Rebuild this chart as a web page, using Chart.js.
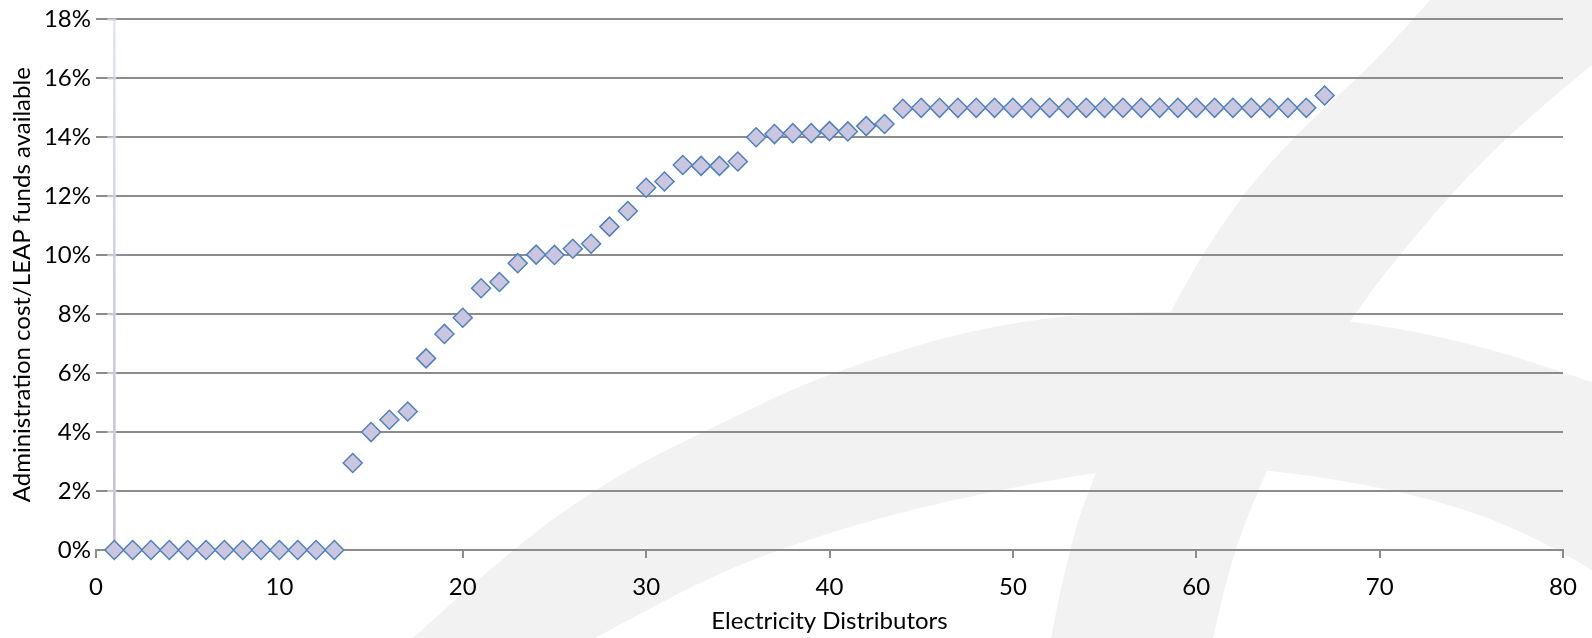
<!DOCTYPE html>
<html>
<head>
<meta charset="utf-8">
<script src="https://cdn.jsdelivr.net/npm/chart.js@4.4.1/dist/chart.umd.min.js"></script>
<style>
  html, body { margin: 0; padding: 0; background: #fff; }
  #wrap { width: 1592px; height: 638px; }
</style>
</head>
<body>
<div id="wrap"><canvas id="myChart" width="1592" height="638"></canvas></div>
<script>
// distributor number (x) and admin cost as % of LEAP funds (y)
var distributors = [
  1, 2, 3, 4, 5, 6, 7, 8, 9, 10, 11, 12, 13, 14, 15, 16, 17, 18, 19, 20,
  21, 22, 23, 24, 25, 26, 27, 28, 29, 30, 31, 32, 33, 34, 35, 36, 37, 38, 39, 40,
  41, 42, 43, 44, 45, 46, 47, 48, 49, 50, 51, 52, 53, 54, 55, 56, 57, 58, 59, 60,
  61, 62, 63, 64, 65, 66, 67
];
var adminShare = [
  0, 0, 0, 0, 0, 0, 0, 0, 0, 0, 0, 0, 0,
  2.95, 4.0, 4.42, 4.7, 6.5, 7.33, 7.88, 8.88, 9.09, 9.73, 10.02,
  10.01, 10.22, 10.39, 10.97, 11.5, 12.29, 12.5, 13.06, 13.03, 13.03,
  13.18, 14.0, 14.11, 14.14, 14.14, 14.21, 14.2, 14.38, 14.45, 14.97,
  15, 15, 15, 15, 15, 15, 15, 15, 15, 15, 15,
  15, 15, 15, 15, 15, 15, 15, 15, 15, 15, 15,
  15.42
];
var xTicks = [0, 10, 20, 30, 40, 50, 60, 70, 80];
var yTicks = [0, 2, 4, 6, 8, 10, 12, 14, 16, 18];

var points = distributors.map(function (d, i) { return {x: d, y: adminShare[i]}; });

// faint grey watermark behind the plot
function smoothPath(ctx, pts) {
  ctx.lineTo(pts[0][0], pts[0][1]);
  for (var i = 1; i < pts.length - 1; i++) {
    var mx = (pts[i][0] + pts[i + 1][0]) / 2, my = (pts[i][1] + pts[i + 1][1]) / 2;
    ctx.quadraticCurveTo(pts[i][0], pts[i][1], mx, my);
  }
  var last = pts[pts.length - 1];
  ctx.lineTo(last[0], last[1]);
}
var watermark = {
  id: 'watermark',
  beforeDraw: function (chart) {
    var ctx = chart.ctx, sx = chart.width / 1592, sy = chart.height / 638;
    ctx.save();
    ctx.scale(sx, sy);
    ctx.fillStyle = '#f2f2f2';
    // arc band
    ctx.beginPath();
    ctx.moveTo(413, 638);
    smoothPath(ctx, [[413, 638], [513, 547], [613, 477], [713, 427], [829, 372], [1000, 321], [1170, 309], [1351, 319], [1480, 345], [1592, 382]]);
    ctx.lineTo(1592, 570);
    smoothPath(ctx, [[1592, 570], [1520, 527], [1400, 490], [1267, 469], [1180, 466], [1095, 472], [1000, 490], [900, 512], [800, 542], [713, 575], [595, 638]]);
    ctx.closePath();
    ctx.fill();
    // stem
    ctx.beginPath();
    ctx.moveTo(1051, 638);
    smoothPath(ctx, [[1051, 638], [1068, 550], [1095, 472], [1170, 308], [1237, 200], [1303, 127], [1370, 67], [1430, 0]]);
    ctx.lineTo(1592, 0);
    ctx.lineTo(1592, 65);
    smoothPath(ctx, [[1592, 65], [1537, 110], [1470, 173], [1403, 250], [1351, 318], [1300, 400], [1267, 469], [1233, 553], [1213, 638]]);
    ctx.closePath();
    ctx.fill();
    ctx.restore();
  }
};

// vertical axis drawn at distributor 1
var crossAxis = {
  id: 'crossAxis',
  beforeDatasetsDraw: function (chart) {
    var ctx = chart.ctx, xs = chart.scales.x, ys = chart.scales.y;
    var px = xs.getPixelForValue(1);
    var top = ys.getPixelForValue(18), bottom = ys.getPixelForValue(0);
    ctx.save();
    var grad = ctx.createLinearGradient(0, top, 0, bottom);
    grad.addColorStop(0, '#e0e6f6');
    grad.addColorStop(0.5, '#c9cde6');
    grad.addColorStop(1, '#c6bcda');
    ctx.strokeStyle = grad;
    ctx.lineWidth = 2.5;
    ctx.beginPath();
    ctx.moveTo(px, top);
    ctx.lineTo(px, bottom);
    ctx.stroke();
    ctx.strokeStyle = '#cdc6df';
    ctx.lineWidth = 2;
    yTicks.forEach(function (t) {
      if (t === 0) return;
      var py = ys.getPixelForValue(t);
      ctx.beginPath();
      ctx.moveTo(px - 7, py);
      ctx.lineTo(px + 2, py);
      ctx.stroke();
    });
    ctx.restore();
  }
};

var ctx = document.getElementById('myChart');
var myChart = new Chart(ctx, {
  type: 'scatter',
  data: {
    datasets: [{
      data: points,
      pointStyle: 'rectRot',
      pointRadius: 9.5,
      pointHoverRadius: 9.5,
      backgroundColor: '#cbc6df',
      borderColor: '#4f81bd',
      borderWidth: 1.5,
      clip: false
    }]
  },
  options: {
    responsive: false,
    animation: false,
    devicePixelRatio: 1,
    layout: { padding: { left: 0, right: 29, top: 18, bottom: 0 } },
    plugins: { legend: { display: false }, tooltip: { enabled: false } },
    scales: {
      x: {
        type: 'linear',
        min: 0,
        max: 80,
        afterFit: function (s) { s.height = 88; },
        afterBuildTicks: function (s) { s.ticks = xTicks.map(function (v) { return {value: v}; }); },
        grid: { drawOnChartArea: false, drawTicks: true, tickLength: 8, color: '#8c8c8c', lineWidth: 2 },
        border: { color: '#8c8c8c', width: 2 },
        ticks: { color: '#000', padding: 15, font: { family: 'Lato', size: 24 } },
        title: {
          display: true,
          text: 'Electricity Distributors',
          color: '#000',
          font: { family: 'Lato', size: 24 },
          padding: { top: 0, bottom: 2 }
        }
      },
      y: {
        type: 'linear',
        min: 0,
        max: 18,
        afterFit: function (s) { s.width = 96; },
        afterBuildTicks: function (s) { s.ticks = yTicks.map(function (v) { return {value: v}; }); },
        grid: { drawTicks: false, color: '#8c8c8c', lineWidth: 2 },
        border: { display: false },
        ticks: {
          color: '#000',
          padding: 5,
          font: { family: 'Lato', size: 24 },
          callback: function (v) { return v + '%'; }
        },
        title: {
          display: true,
          text: 'Administration cost/LEAP funds available',
          color: '#000',
          font: { family: 'Lato', size: 24 },
          padding: { top: 8, bottom: 0 }
        }
      }
    }
  },
  plugins: [watermark, crossAxis]
});
</script>
</body>
</html>
